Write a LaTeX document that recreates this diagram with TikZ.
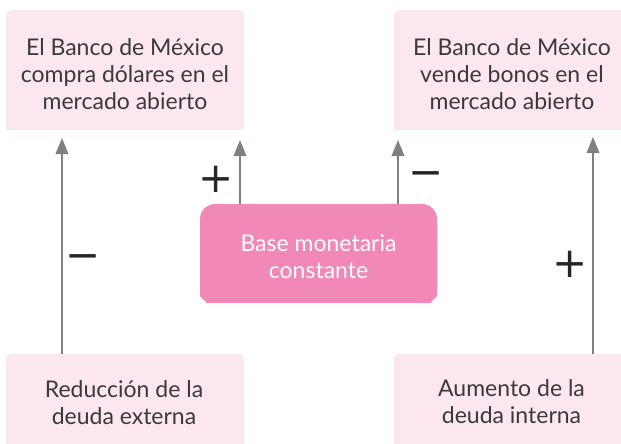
\documentclass[tikz,border=0pt]{standalone}
\usepackage{fontspec}
\setmainfont{Lato}
\newfontfamily\signfont{DejaVu Sans}
\usetikzlibrary{arrows.meta}
\definecolor{lightpink}{RGB}{252,231,240}
\definecolor{midpink}{RGB}{242,136,182}
\definecolor{arrowgray}{RGB}{128,128,128}
\definecolor{txtgray}{RGB}{58,58,58}
\begin{document}
\begin{tikzpicture}[x=1pt,y=-1pt,
  boxanchor/.style={draw=none, fill=none, inner sep=0pt, outer sep=0pt, rectangle},
  lbl/.style={font=\fontsize{23}{27}\selectfont, text=txtgray, align=center, inner sep=0pt},
  clbl/.style={lbl, text=white},
  link/.style={draw=arrowgray, line width=2pt, -{Triangle[length=16pt,width=12.5pt]}},
  sign/.style={font=\signfont\fontsize{42}{42}\selectfont, text=black!85, inner sep=0pt}]
\useasboundingbox (0,0) rectangle (621,444);

% anchor boxes
\node[boxanchor, minimum width=238pt, minimum height=120pt] (tl) at (125,70) {};
\node[boxanchor, minimum width=238pt, minimum height=120pt] (tr) at (513,70) {};
\node[boxanchor, minimum width=238pt, minimum height=120pt] (bl) at (125,414) {};
\node[boxanchor, minimum width=238pt, minimum height=120pt] (br) at (513,414) {};
\node[boxanchor, minimum width=237pt, minimum height=99pt] (c) at (318.5,253.5) {};

% box fills
\fill[lightpink, rounded corners=5pt] (6,10) rectangle (244,60);
\fill[lightpink] (6,40) -- (244,40) -- (244,127) -- (241,130) -- (6,130) -- cycle;
\fill[lightpink, rounded corners=5pt] (394,10) rectangle (632,60);
\fill[lightpink] (394,40) -- (632,40) -- (632,130) -- (394,130) -- cycle;
\fill[lightpink, rounded corners=5pt] (6,354) rectangle (244,400);
\fill[lightpink] (6,380) rectangle (244,474);
\fill[lightpink, rounded corners=5pt] (394,354) rectangle (632,400);
\fill[lightpink] (394,380) rectangle (632,474);
\fill[midpink, rounded corners=15pt] (200,204) rectangle (437,260);
\fill[midpink] (200,240) -- (437,240) -- (437,296) -- (430,303) -- (207,303) -- (200,296) -- cycle;

% texts
\node[lbl] (tltext) at (125,74) {El Banco de México\\compra dólares en el\\mercado abierto};
\node[lbl] (trtext) at (512,74) {El Banco de México\\vende bonos en el\\mercado abierto};
\node[lbl] (bltext) at (124,403) {Reducción de la\\deuda externa};
\node[lbl] (brtext) at (511.5,401.5) {Aumento de la\\deuda interna};
\node[clbl] (ctext) at (318.5,256.5) {Base monetaria\\constante};

% connectors
\draw[link] ([xshift=56pt]bl.north west) -- ([xshift=56pt,yshift=-8pt]tl.south west);
\draw[link] ([xshift=40pt]c.north west) -- ([xshift=234pt,yshift=-10pt]tl.south west);
\draw[link] ([xshift=198pt]c.north west) -- ([xshift=4pt,yshift=-10pt]tr.south west);
\draw[link] ([xshift=199pt]br.north west) -- ([xshift=199pt,yshift=-7pt]tr.south west);

% signs
\node[sign] (s1) at (83.5,262) {−};
\node[sign] (s2) at (216.5,179.5) {+};
\node[sign] (s3) at (426.5,179) {−};
\node[sign] (s4) at (570.5,264.5) {+};
\end{tikzpicture}
\end{document}
